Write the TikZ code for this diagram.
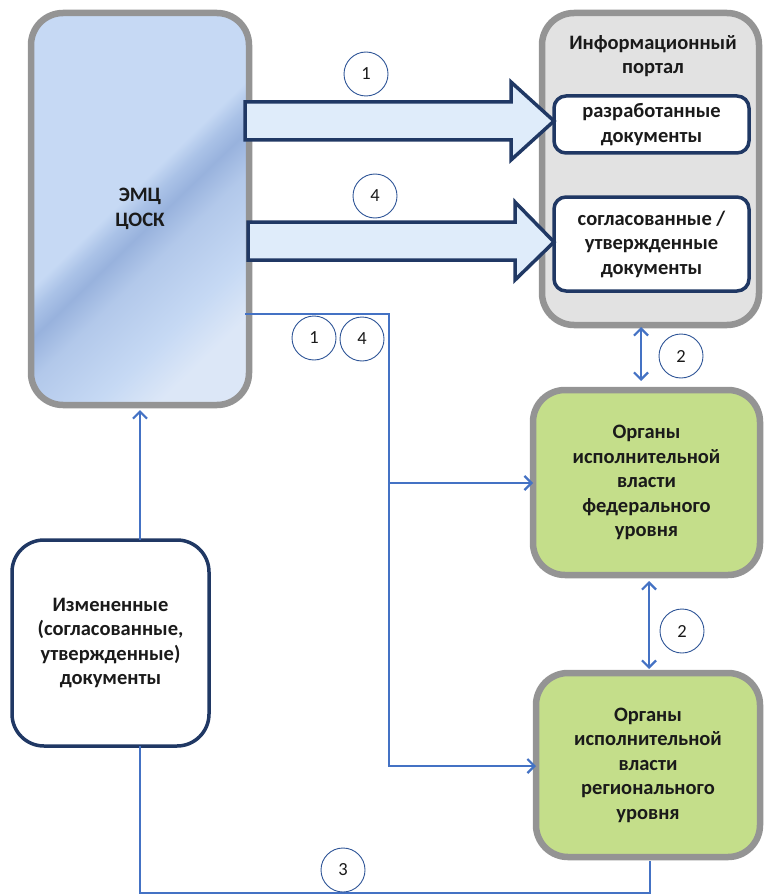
\documentclass[tikz,border=0pt]{standalone}
\usepackage{fontspec}
\setmainfont{Carlito}
\usetikzlibrary{arrows.meta}

\definecolor{ink}{HTML}{1A1A1A}
\definecolor{boxgray}{HTML}{949494}
\definecolor{portalfill}{HTML}{E2E2E2}
\definecolor{orgfill}{HTML}{C4DE8A}
\definecolor{navy}{HTML}{203864}
\definecolor{flowblue}{HTML}{4472C4}
\definecolor{ringblue}{HTML}{2F5597}
\definecolor{bigarrowfill}{HTML}{DFECFA}
\definecolor{emcL}{HTML}{C6D9F4}
\definecolor{emcM}{HTML}{AAC2E7}
\definecolor{emcD}{HTML}{98B2DD}
\definecolor{emcR}{HTML}{B2C8EA}
\definecolor{emcLL}{HTML}{DCE7F7}

% diagonal sheen for the ЭМЦ block
\pgfdeclarehorizontalshading{emcsheen}{100bp}{%
  color(0bp)=(emcL); color(47bp)=(emcL); color(50bp)=(emcM);
  color(53bp)=(emcD); color(58bp)=(emcR); color(68bp)=(emcL);
  color(75bp)=(emcLL); color(100bp)=(emcLL)}

\newcommand\diagfont{\fontsize{20.5}{24.5}\selectfont\bfseries}
\newcommand\numfont{\fontsize{18.5}{20}\selectfont}

\tikzset{
  x=1pt, y=-1pt,
  every node/.style={outer sep=0pt, inner sep=0pt, align=center, text=ink},
  graybox/.style={draw=boxgray, line width=6.5pt, rounded corners=32pt, font=\diagfont},
  navybox/.style={draw=navy, line width=3.5pt, fill=white, font=\diagfont},
  num/.style={circle, draw=ringblue, line width=0.9pt, minimum size=44pt, font=\numfont, fill=white},
  flow/.style={draw=flowblue, line width=2.8pt},
  tip/.style={-{Straight Barb[length=7pt,width=14pt,line width=2.2pt]}},
  twotip/.style={{Straight Barb[length=7pt,width=14pt,line width=2.2pt]}-{Straight Barb[length=7pt,width=14pt,line width=2.2pt]}},
  bigarrow/.style={draw=navy, line width=3.5pt, fill=bigarrowfill, line join=miter},
}

\begin{document}
\begin{tikzpicture}
\useasboundingbox (0,0) rectangle (765,896);

% main blocks
\node[graybox, shading=emcsheen, shading angle=-46,
      minimum width=218pt, minimum height=392pt] (emc) at (140,209) {ЭМЦ\\ЦОСК};

\node[graybox, fill=portalfill, minimum width=217pt, minimum height=312pt] (portal) at (650.5,169) {};
\node[font=\diagfont] (portaltitle) at (653,56) {Информационный\\портал};
\node[navybox, rounded corners=12pt, minimum width=195pt, minimum height=57pt] (dev) at (651.5,124.5)
  {разработанные\\документы};
\node[navybox, rounded corners=12pt, minimum width=195pt, minimum height=94pt] (appr) at (651.5,244)
  {согласованные /\\утвержденные\\документы};

\node[graybox, fill=orgfill, minimum width=227pt, minimum height=185pt] (fed) at (646.5,482.5)
  {Органы\\исполнительной\\власти\\федерального\\уровня};
\node[graybox, fill=orgfill, minimum width=224pt, minimum height=184pt] (reg) at (648,765)
  {Органы\\исполнительной\\власти\\регионального\\уровня};

\node[navybox, rounded corners=32pt, minimum width=197pt, minimum height=206pt] (chg) at (110.5,643)
  {Измененные\\(согласованные,\\утвержденные)\\документы};

% block arrows into the portal
\draw[bigarrow] (245,102) -- (511,102) -- (511,82) -- (dev.west |- 0,121) -- (511,160) -- (511,140) -- (245,140) -- cycle;
\draw[bigarrow] (248,222) -- (515,222) -- (515,202) -- (appr.west |- 0,242) -- (515,280) -- (515,260) -- (248,260) -- cycle;

% distribution lines
\coordinate (tap) at (245,314);
\coordinate (split) at (389,483);
\coordinate (drop) at (389,766);
\draw[flow] (tap) -| (split);
\draw[flow, tip] (split) -- (split -| fed.west);
\draw[flow, tip] (split) -- (drop) -- (drop -| reg.west);

% exchange between levels
\coordinate (pb) at (641,327);
\coordinate (ft) at (641,381);
\draw[flow, twotip] (pb) -- (ft);
\coordinate (fb) at (649,581);
\coordinate (rt) at (649,669);
\draw[flow, twotip] (fb) -- (rt);

% changed documents feed back
\coordinate (chgtop) at (140,540);
\coordinate (emcbot) at (140,410);
\draw[flow, tip] (chgtop) -- (emcbot);
\coordinate (chgbot) at (140,746);
\coordinate (regbot) at (650,861);
\draw[flow] (chgbot) |- (650,893) -- (regbot);

% step numbers
\node[num] (s1a) at (366,74) {1};
\node[num] (s4a) at (375,196) {4};
\node[num] (s1b) at (314,338) {1};
\node[num] (s4b) at (362,339) {4};
\node[num] (s2a) at (681,356) {2};
\node[num] (s2b) at (682,631) {2};
\node[num] (s3) at (343,870) {3};
\end{tikzpicture}
\end{document}
